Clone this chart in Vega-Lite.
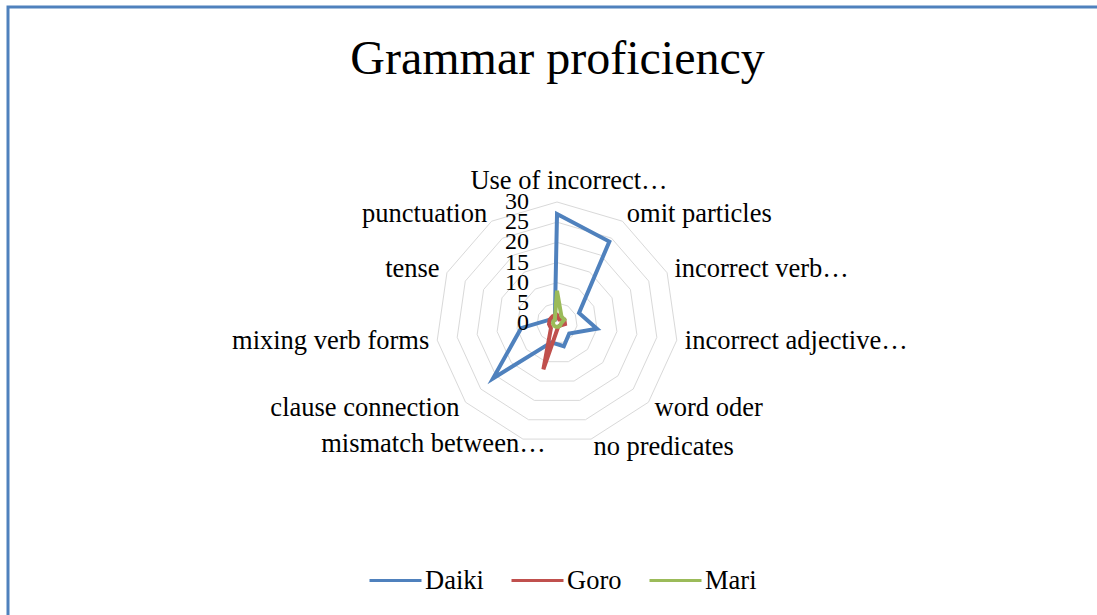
{
  "$schema": "https://vega.github.io/schema/vega-lite/v6.json",
  "width": 1099,
  "height": 618,
  "autosize": {"type": "none"},
  "padding": {"left": 8, "top": 7, "right": -10, "bottom": -10},
  "title": {
    "text": "Grammar proficiency",
    "font": "Liberation Serif",
    "fontSize": 48,
    "fontWeight": "normal",
    "color": "#000000",
    "anchor": "middle",
    "frame": "group",
    "baseline": "alphabetic",
    "offset": -115
  },
  "config": {
    "font": "Liberation Serif",
    "view": {"stroke": "#4f81bd", "strokeWidth": 3},
    "legend": {
      "orient": "none",
      "legendX": 360,
      "legendY": 546,
      "direction": "horizontal",
      "padding": 0,
      "labelFont": "Liberation Serif",
      "labelFontSize": 26.5,
      "labelColor": "#000000",
      "labelOffset": 2,
      "columnPadding": 21,
      "symbolType": "stroke",
      "symbolSize": 2704,
      "symbolStrokeWidth": 3,
      "title": null
    }
  },
  "datasets": {
    "cats": [
      {"idx": 0, "category": "Use of incorrect…", "Daiki": 27, "Goro": 2, "Mari": 8},
      {"idx": 1, "category": "omit particles", "Daiki": 24, "Goro": 1, "Mari": 2},
      {"idx": 2, "category": "incorrect verb…", "Daiki": 6, "Goro": 2, "Mari": 2},
      {"idx": 3, "category": "incorrect adjective…", "Daiki": 10, "Goro": 2, "Mari": 1},
      {"idx": 4, "category": "word oder", "Daiki": 4, "Goro": 1, "Mari": 1},
      {"idx": 5, "category": "no predicates", "Daiki": 6, "Goro": 1, "Mari": 1},
      {"idx": 6, "category": "mismatch between…", "Daiki": 5, "Goro": 12, "Mari": 1},
      {"idx": 7, "category": "clause connection", "Daiki": 21, "Goro": 2, "Mari": 1},
      {"idx": 8, "category": "mixing verb forms", "Daiki": 9, "Goro": 2, "Mari": 1},
      {"idx": 9, "category": "tense", "Daiki": 2, "Goro": 2, "Mari": 1},
      {"idx": 10, "category": "punctuation", "Daiki": 1, "Goro": 2, "Mari": 1}
    ],
    "grid": [
      {"idx": 0, "level": [5, 10, 15, 20, 25, 30]},
      {"idx": 1, "level": [5, 10, 15, 20, 25, 30]},
      {"idx": 2, "level": [5, 10, 15, 20, 25, 30]},
      {"idx": 3, "level": [5, 10, 15, 20, 25, 30]},
      {"idx": 4, "level": [5, 10, 15, 20, 25, 30]},
      {"idx": 5, "level": [5, 10, 15, 20, 25, 30]},
      {"idx": 6, "level": [5, 10, 15, 20, 25, 30]},
      {"idx": 7, "level": [5, 10, 15, 20, 25, 30]},
      {"idx": 8, "level": [5, 10, 15, 20, 25, 30]},
      {"idx": 9, "level": [5, 10, 15, 20, 25, 30]},
      {"idx": 10, "level": [5, 10, 15, 20, 25, 30]}
    ],
    "ticks": [
      {"level": 0}, {"level": 5}, {"level": 10}, {"level": 15},
      {"level": 20}, {"level": 25}, {"level": 30}
    ]
  },
  "layer": [
    {
      "data": {"name": "grid"},
      "transform": [
        {"flatten": ["level"]},
        {"calculate": "datum.idx * 2 * PI / 11", "as": "theta"},
        {"calculate": "datum.level * sin(datum.theta)", "as": "px"},
        {"calculate": "datum.level * cos(datum.theta)", "as": "py"}
      ],
      "mark": {"type": "line", "interpolate": "linear-closed", "stroke": "#d9d9d9", "strokeWidth": 1},
      "encoding": {
        "x": {"field": "px", "type": "quantitative", "scale": {"domain": [-136.12, 136.36], "nice": false, "zero": false}, "axis": null},
        "y": {"field": "py", "type": "quantitative", "scale": {"domain": [-74.88, 78.35], "nice": false, "zero": false}, "axis": null},
        "detail": {"field": "level", "type": "nominal"},
        "order": {"field": "idx", "type": "quantitative"}
      }
    },
    {
      "data": {"name": "cats"},
      "transform": [
        {"fold": ["Daiki", "Goro", "Mari"], "as": ["student", "value"]},
        {"calculate": "datum.idx * 2 * PI / 11", "as": "theta"},
        {"calculate": "datum.value * sin(datum.theta)", "as": "px"},
        {"calculate": "datum.value * cos(datum.theta)", "as": "py"}
      ],
      "mark": {"type": "line", "interpolate": "linear-closed", "strokeWidth": 4, "strokeJoin": "miter"},
      "encoding": {
        "x": {"field": "px", "type": "quantitative", "scale": {"domain": [-136.12, 136.36], "nice": false, "zero": false}, "axis": null},
        "y": {"field": "py", "type": "quantitative", "scale": {"domain": [-74.88, 78.35], "nice": false, "zero": false}, "axis": null},
        "color": {
          "field": "student",
          "type": "nominal",
          "scale": {"domain": ["Daiki", "Goro", "Mari"], "range": ["#4f81bd", "#c0504d", "#9bbb59"]},
          "legend": {"title": null}
        },
        "order": {"field": "idx", "type": "quantitative"}
      }
    },
    {
      "data": {"name": "ticks"},
      "mark": {"type": "text", "align": "right", "baseline": "middle", "dx": -28, "fontSize": 24, "font": "Liberation Serif", "color": "#000000"},
      "encoding": {
        "x": {"datum": 0, "type": "quantitative"},
        "y": {"field": "level", "type": "quantitative"},
        "text": {"field": "level", "type": "quantitative"}
      }
    },
    {
      "data": {"name": "cats"},
      "transform": [
        {"filter": "datum.idx == 0"},
        {"calculate": "datum.idx * 2 * PI / 11", "as": "theta"},
        {"calculate": "32 * sin(datum.theta)", "as": "lx"},
        {"calculate": "32 * cos(datum.theta)", "as": "ly"}
      ],
      "mark": {"type": "text", "align": "center", "baseline": "middle", "dx": 12, "dy": -13, "fontSize": 26.5, "font": "Liberation Serif", "color": "#000000"},
      "encoding": {
        "x": {"field": "lx", "type": "quantitative"},
        "y": {"field": "ly", "type": "quantitative"},
        "text": {"field": "category", "type": "nominal"}
      }
    },
    {
      "data": {"name": "cats"},
      "transform": [
        {"filter": "datum.idx >= 1 && datum.idx <= 5"},
        {"calculate": "datum.idx * 2 * PI / 11", "as": "theta"},
        {"calculate": "32 * sin(datum.theta)", "as": "lx"},
        {"calculate": "32 * cos(datum.theta)", "as": "ly"}
      ],
      "mark": {"type": "text", "align": "left", "baseline": "middle", "fontSize": 26.5, "font": "Liberation Serif", "color": "#000000"},
      "encoding": {
        "x": {"field": "lx", "type": "quantitative"},
        "y": {"field": "ly", "type": "quantitative"},
        "text": {"field": "category", "type": "nominal"}
      }
    },
    {
      "data": {"name": "cats"},
      "transform": [
        {"filter": "datum.idx == 6"},
        {"calculate": "datum.idx * 2 * PI / 11", "as": "theta"},
        {"calculate": "32 * sin(datum.theta)", "as": "lx"},
        {"calculate": "32 * cos(datum.theta)", "as": "ly"}
      ],
      "mark": {"type": "text", "align": "right", "baseline": "middle", "dx": 25, "dy": -3, "fontSize": 26.5, "font": "Liberation Serif", "color": "#000000"},
      "encoding": {
        "x": {"field": "lx", "type": "quantitative"},
        "y": {"field": "ly", "type": "quantitative"},
        "text": {"field": "category", "type": "nominal"}
      }
    },
    {
      "data": {"name": "cats"},
      "transform": [
        {"filter": "datum.idx >= 7"},
        {"calculate": "datum.idx * 2 * PI / 11", "as": "theta"},
        {"calculate": "32 * sin(datum.theta)", "as": "lx"},
        {"calculate": "32 * cos(datum.theta)", "as": "ly"}
      ],
      "mark": {"type": "text", "align": "right", "baseline": "middle", "fontSize": 26.5, "font": "Liberation Serif", "color": "#000000"},
      "encoding": {
        "x": {"field": "lx", "type": "quantitative"},
        "y": {"field": "ly", "type": "quantitative"},
        "text": {"field": "category", "type": "nominal"}
      }
    }
  ]
}
